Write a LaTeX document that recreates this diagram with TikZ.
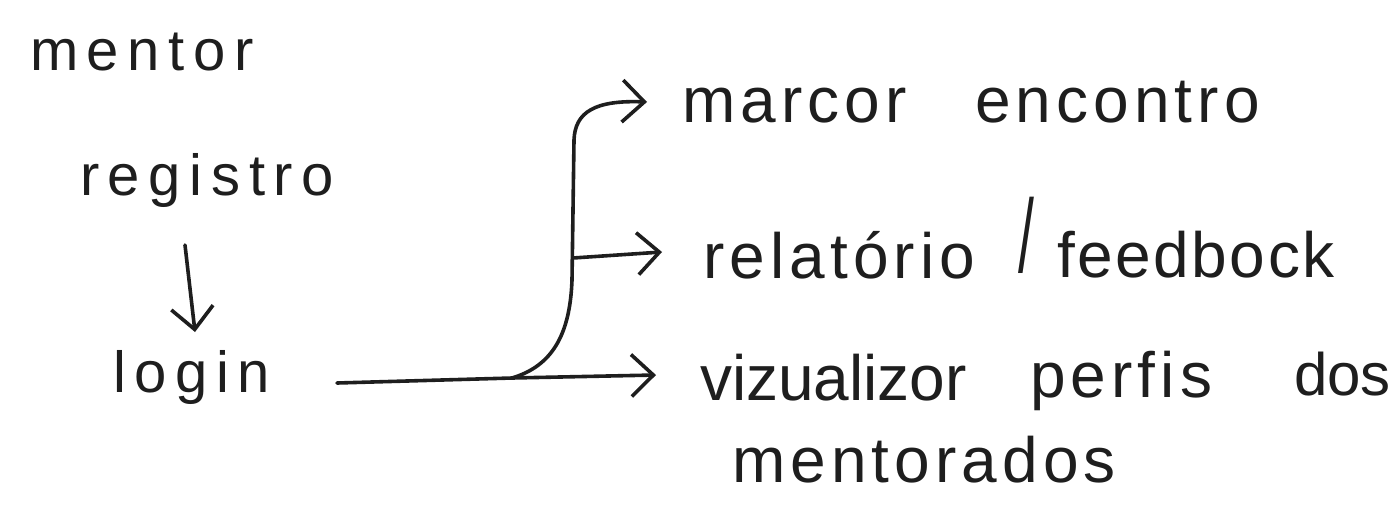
\documentclass[tikz,border=0pt]{standalone}
\usepackage{fontspec}
\setmainfont{Liberation Sans}
\newfontfamily\handA[LetterSpace=15]{Liberation Sans}
\newfontfamily\handB[LetterSpace=8]{Liberation Sans}
\newfontfamily\handC[LetterSpace=4]{Liberation Sans}
\newfontfamily\handZ{Liberation Sans}
\usetikzlibrary{arrows.meta}
\definecolor{ink}{HTML}{1E1E1E}
\begin{document}
\begin{tikzpicture}[x=1pt,y=-1pt,
  txt/.style={anchor=base west,inner sep=0pt,outer sep=0pt,text=ink},
  lft/.style={txt,font=\handA\fontsize{58}{66}\selectfont},
  rgt/.style={txt,font=\handB\fontsize{64}{72}\selectfont},
  rgttight/.style={txt,font=\handC\fontsize{64}{72}\selectfont},
  rgtplain/.style={txt,font=\handZ\fontsize{64}{72}\selectfont},
  conn/.style={draw=ink,line width=3.6pt,line cap=round,line join=round},
  arr/.style={conn,-{Straight Barb[length=22pt,width=42pt]}}]
\useasboundingbox (0,0) rectangle (1400,520);

% left column
\node[lft] (mentor)   at (30,70)   {mentor};
\node[lft] (registro) at (80,195)  {registro};
\node[lft] (login)    at (113,392) {login};

% right column
\node[rgt] (marcor)       at (682,122)  {marcor};
\node[rgt] (encontro)     at (975,122)  {encontro};
\node[rgt] (relatorio)    at (703,278)  {relatório};
\node[txt,font=\handZ\fontsize{104}{110}\selectfont] (slash) at (1018,272) {\scalebox{0.55}[1]{/}};
\node[rgttight] (feedbock) at (1057,277) {feedbock};
\node[rgtplain] (vizualizor) at (700,400) {vizualizor};
\node[rgt] (perfis)       at (1030,397) {perfis};
\node[txt,font=\handZ\fontsize{60}{66}\selectfont] (dos) at (1294,395) {dos};
\node[rgt] (mentorados)   at (732,482)  {mentorados};

% connectors
\coordinate (j)  at (512,378);
\coordinate (m0) at (573,258);

\draw[arr] ([shift={(105,50)}]registro.base west) -- ([shift={(82,-60)}]login.base west);
\draw[conn] ([shift={(224,-9)}]login.base west) -- (j);
\draw[arr] (j) .. controls (552,366) and (570,335) .. (572,280)
              -- (574,140)
              .. controls (575,112) and (595,100) .. ([shift={(-35,-20)}]marcor.base west);
\draw[arr] (m0) -- ([shift={(-41,-26)}]relatorio.base west);
\draw[arr] (j) -- ([shift={(-44,-25)}]vizualizor.base west);
\end{tikzpicture}
\end{document}
